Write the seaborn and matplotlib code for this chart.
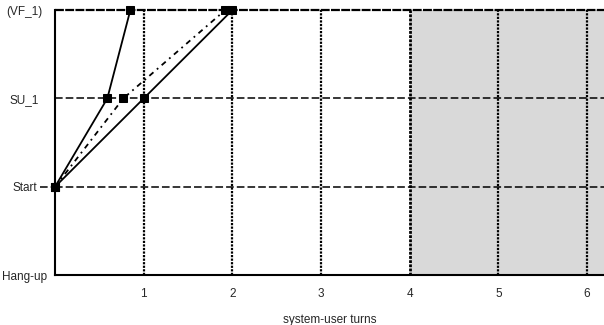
import pandas as pd
import matplotlib.pyplot as plt
import seaborn as sns

# dialogue states on the y axis, bottom to top
states = ["Hang-up", "Start", "SU_1", "(VF_1)"]
turn_ticks = [1, 2, 3, 4, 5, 6]

# three dialogue paths: turns and state index reached
path_a_turns = [0, 0.59, 0.85]
path_a_state = [1, 2, 3]
path_b_turns = [0, 0.77, 1.92]
path_b_state = [1, 2, 3]
path_c_turns = [0, 1, 2]
path_c_state = [1, 2, 3]

df = pd.concat([
    pd.DataFrame({"turns": path_a_turns, "state": path_a_state, "path": "a"}),
    pd.DataFrame({"turns": path_b_turns, "state": path_b_state, "path": "b"}),
    pd.DataFrame({"turns": path_c_turns, "state": path_c_state, "path": "c"}),
])

sns.set_style("white")
plt.rcParams["font.family"] = ["Liberation Sans", "DejaVu Sans"]

fig = plt.figure(figsize=(6.04, 3.25), dpi=100)
ax = fig.add_axes([0.091, 0.153, 0.909, 0.816])

# shaded region beyond 4 turns
ax.axvspan(4, 6.2, color="#d9d9d9", zorder=0)

# grid
for t in turn_ticks:
    if t == 4:
        ax.axvline(t, color="black", lw=2, ls=(0, (1, 0.5)), zorder=1)
    else:
        ax.axvline(t, color="black", lw=1.6, ls=(0, (1, 0.6)), zorder=1)
for s in [1, 2]:
    ax.axhline(s, color="black", lw=1.1, ls=(0, (5, 2)), zorder=1)
ax.axhline(3, color="black", lw=1.6, ls=(0, (4, 0.6)), zorder=1, clip_on=False)

styles = {"a": "-", "b": (0, (3, 2.5, 1, 2.5)), "c": "-"}
for name, grp in df.groupby("path"):
    sns.lineplot(data=grp, x="turns", y="state", sort=False, ax=ax,
                 color="black", lw=1.3, linestyle=styles[name],
                 marker="s", markersize=6, markeredgecolor="black",
                 clip_on=False, zorder=3)

ax.set_xlim(0, 6.19)
ax.set_ylim(0, 3)
ax.set_xticks(turn_ticks)
ax.set_xticklabels([str(t) for t in turn_ticks], fontsize=8.5)
ax.set_yticks(range(len(states)))
ax.set_yticklabels(states, fontsize=8.5, ha="center")
ax.tick_params(axis="x", length=0, pad=9)
ax.tick_params(axis="y", length=2, width=1, color="black", pad=20)
ax.set_xlabel("system-user turns", fontsize=8.5, labelpad=10)
ax.set_ylabel("")

for side in ["top", "right"]:
    ax.spines[side].set_visible(False)
for side in ["left", "bottom"]:
    ax.spines[side].set_color("black")
    ax.spines[side].set_linewidth(1.5)

# small outward tick at Start
ax.plot([-0.17, 0], [1, 1], color="black", lw=1.1, ls=(0, (5, 2)), clip_on=False)

plt.savefig("out.png", dpi=100)
